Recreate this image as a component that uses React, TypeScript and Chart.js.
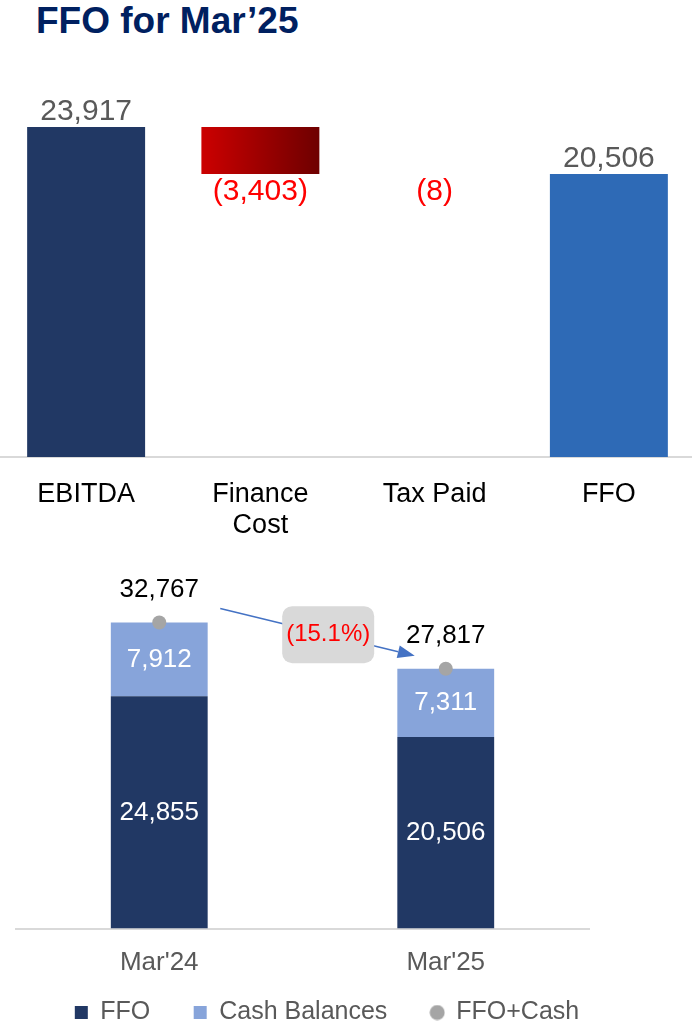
import React, { useEffect, useRef } from 'react';
import { Chart, registerables } from 'chart.js';

Chart.register(...registerables);

const FONT = '"Liberation Sans", Arial, Helvetica, sans-serif';

// ---- Waterfall (top) ----
const stepLabels: (string | string[])[] = ['EBITDA', ['Finance', 'Cost'], 'Tax Paid', 'FFO'];
const stepValues = [23917, -3403, -8, 20506];
const stepIsTotal = [true, false, false, true];
const stepColors = ['#213864', '#B00000', '#C00000', '#2E6AB6'];

// ---- Stacked (bottom) ----
const periodLabels = ["Mar'24", "Mar'25"];
const ffoValues = [24855, 20506];
const cashValues = [7912, 7311];
const totalValues = [32767, 27817];
const seriesNames = ['FFO', 'Cash Balances', 'FFO+Cash'];

const fmt = (v: number) => {
  const s = Math.abs(v).toLocaleString('en-US');
  return v < 0 ? `(${s})` : s;
};

function WaterfallChart() {
  const ref = useRef<HTMLCanvasElement>(null);
  useEffect(() => {
    let run = 0;
    const floating = stepValues.map((v, i) => {
      if (stepIsTotal[i]) {
        run = v;
        return [0, v];
      }
      const start = run;
      run += v;
      return [Math.min(start, run), Math.max(start, run)];
    });
    const labelPlugin = {
      id: 'wfLabels',
      afterDatasetsDraw(chart: any) {
        const ctx = chart.ctx;
        const meta = chart.getDatasetMeta(0);
        ctx.save();
        ctx.font = `30px ${FONT}`;
        ctx.textAlign = 'center';
        ctx.textBaseline = 'middle';
        meta.data.forEach((el: any, i: number) => {
          const v = stepValues[i];
          const top = Math.min(el.y, el.base);
          const bottom = Math.max(el.y, el.base);
          if (v >= 0) {
            ctx.fillStyle = '#595959';
            ctx.fillText(fmt(v), el.x, top - 15);
          } else {
            ctx.fillStyle = '#FF0000';
            ctx.fillText(fmt(v), el.x, bottom + 18);
          }
        });
        ctx.restore();
      },
    };
    const chart = new Chart(ref.current as HTMLCanvasElement, {
      type: 'bar',
      data: {
        labels: stepLabels as any,
        datasets: [
          {
            data: floating as any,
            backgroundColor: (c: any) => {
              const i = c.dataIndex;
              if (i === undefined) return stepColors[0];
              if (i !== 1) return stepColors[i];
              const chart = c.chart;
              const xs = chart.scales && chart.scales.x;
              if (!chart.chartArea || !xs) return stepColors[1];
              const cx = xs.getPixelForValue(i);
              const half = ((xs.width / stepValues.length) * 0.677) / 2;
              const g = chart.ctx.createLinearGradient(cx - half, 0, cx + half, 0);
              g.addColorStop(0, '#CC0000');
              g.addColorStop(1, '#6E0000');
              return g;
            },
            borderWidth: 0,
            barPercentage: 0.677,
            categoryPercentage: 1,
          },
        ],
      },
      options: {
        animation: false,
        responsive: false,
        maintainAspectRatio: false,
        layout: { padding: 0 },
        plugins: { legend: { display: false }, tooltip: { enabled: false } },
        scales: {
          x: {
            grid: { display: false },
            border: { display: true, color: '#D9D9D9', width: 2 },
            ticks: {
              color: '#000000',
              font: { family: FONT, size: 27, lineHeight: 1.15 },
              padding: 14,
              maxRotation: 0,
              autoSkip: false,
            },
            afterFit: (s: any) => {
              s.height = 93;
            },
          },
          y: { display: false, min: 0, max: 28770 },
        },
      } as any,
      plugins: [labelPlugin],
    });
    return () => chart.destroy();
  }, []);
  return (
    <canvas
      ref={ref}
      width={697}
      height={490}
      style={{ position: 'absolute', left: -1, top: 60, width: 697, height: 490 }}
    />
  );
}

function StackChart() {
  const ref = useRef<HTMLCanvasElement>(null);
  useEffect(() => {
    const circleImg = document.createElement('canvas');
    circleImg.width = 16;
    circleImg.height = 16;
    const cctx = circleImg.getContext('2d') as CanvasRenderingContext2D;
    cctx.fillStyle = '#A5A5A5';
    cctx.beginPath();
    cctx.arc(8, 8, 7.5, 0, Math.PI * 2);
    cctx.fill();

    const annotPlugin = {
      id: 'stackLabels',
      afterDatasetsDraw(chart: any) {
        const ctx = chart.ctx;
        const m0 = chart.getDatasetMeta(0);
        const m1 = chart.getDatasetMeta(1);
        const m2 = chart.getDatasetMeta(2);
        ctx.save();
        ctx.textAlign = 'center';
        ctx.textBaseline = 'middle';
        ctx.font = `26px ${FONT}`;
        ctx.fillStyle = '#FFFFFF';
        m0.data.forEach((el: any, i: number) => ctx.fillText(fmt(ffoValues[i]), el.x, (el.y + el.base) / 2));
        m1.data.forEach((el: any, i: number) => ctx.fillText(fmt(cashValues[i]), el.x, (el.y + el.base) / 2));
        ctx.fillStyle = '#000000';
        m2.data.forEach((el: any, i: number) => ctx.fillText(fmt(totalValues[i]), el.x, el.y - 33));

        // arrow
        const p1 = m2.data[0];
        const p2 = m2.data[1];
        const sx = p1.x + 61;
        const sy = p1.y - 14;
        const ex = p2.x - 31;
        const ey = p2.y - 13;
        const ang = Math.atan2(ey - sy, ex - sx);
        const headLen = 17;
        const headHalf = 6.5;
        const bx = ex - headLen * Math.cos(ang);
        const by = ey - headLen * Math.sin(ang);
        ctx.strokeStyle = '#4472C4';
        ctx.fillStyle = '#4472C4';
        ctx.lineWidth = 1.5;
        ctx.beginPath();
        ctx.moveTo(sx, sy);
        ctx.lineTo(bx, by);
        ctx.stroke();
        ctx.beginPath();
        ctx.moveTo(ex, ey);
        ctx.lineTo(bx + headHalf * Math.sin(ang), by - headHalf * Math.cos(ang));
        ctx.lineTo(bx - headHalf * Math.sin(ang), by + headHalf * Math.cos(ang));
        ctx.closePath();
        ctx.fill();

        // change box
        const t = 0.555;
        const cx = sx + t * (ex - sx);
        const cy = sy + t * (ey - sy);
        const w = 92;
        const h = 57;
        ctx.fillStyle = '#D9D9D9';
        ctx.beginPath();
        (ctx as any).roundRect(cx - w / 2, cy - h / 2, w, h, 10);
        ctx.fill();
        const pct = (totalValues[1] / totalValues[0] - 1) * 100;
        const pctText = pct < 0 ? `(${Math.abs(pct).toFixed(1)}%)` : `${pct.toFixed(1)}%`;
        ctx.fillStyle = '#FF0000';
        ctx.font = `24px ${FONT}`;
        ctx.fillText(pctText, cx, cy);
        ctx.restore();
      },
    };

    const chart = new Chart(ref.current as HTMLCanvasElement, {
      type: 'bar',
      data: {
        labels: periodLabels,
        datasets: [
          {
            type: 'bar',
            label: seriesNames[0],
            data: ffoValues,
            backgroundColor: '#213864',
            borderWidth: 0,
            stack: 's',
            order: 1,
            barPercentage: 0.338,
            categoryPercentage: 1,
          },
          {
            type: 'bar',
            label: seriesNames[1],
            data: cashValues,
            backgroundColor: '#87A4DA',
            borderWidth: 0,
            stack: 's',
            order: 1,
            barPercentage: 0.338,
            categoryPercentage: 1,
          },
          {
            type: 'line',
            label: seriesNames[2],
            data: totalValues,
            showLine: false,
            pointRadius: 7,
            pointBackgroundColor: '#A5A5A5',
            pointBorderWidth: 0,
            backgroundColor: '#A5A5A5',
            borderColor: '#A5A5A5',
            stack: 't',
            order: 0,
          },
        ] as any,
      },
      options: {
        animation: false,
        responsive: false,
        maintainAspectRatio: false,
        layout: { padding: { left: 16, right: 54, top: 0, bottom: 0 } },
        plugins: {
          tooltip: { enabled: false },
          legend: {
            display: true,
            position: 'bottom',
            labels: {
              usePointStyle: true,
              boxWidth: 13,
              boxHeight: 13,
              padding: 29.5,
              color: '#595959',
              font: { family: FONT, size: 25 },
              sort: (a: any, b: any) => a.datasetIndex - b.datasetIndex,
              generateLabels: (ch: any) => {
                const items = (Chart.defaults as any).plugins.legend.labels.generateLabels(ch);
                items.forEach((it: any) => {
                  it.pointStyle = it.datasetIndex === 2 ? circleImg : 'rect';
                  it.lineWidth = 0;
                  it.strokeStyle = 'rgba(0,0,0,0)';
                  if (it.datasetIndex !== 2) it.text = it.text + '  ';
                });
                return items;
              },
            },
          },
        },
        scales: {
          x: {
            stacked: true,
            grid: { display: false },
            border: { display: true, color: '#D9D9D9', width: 2 },
            ticks: {
              color: '#595959',
              font: { family: FONT, size: 26, lineHeight: 1.2 },
              padding: 11,
              maxRotation: 0,
            },
            afterFit: (s: any) => {
              s.height = 42;
            },
          },
          y: {
            stacked: true,
            min: 0,
            max: 39350,
            position: 'right',
            grid: { display: false },
            border: { display: false },
            ticks: { display: false },
            afterFit: (s: any) => {
              s.width = 49;
            },
          },
        },
      } as any,
      plugins: [annotPlugin],
    });
    return () => chart.destroy();
  }, []);
  return (
    <canvas
      ref={ref}
      width={692}
      height={481}
      style={{ position: 'absolute', left: 0, top: 554, width: 692, height: 481 }}
    />
  );
}

export default function App() {
  return (
    <div
      style={{
        position: 'absolute',
        left: 0,
        top: 0,
        width: 692,
        height: 1026,
        overflow: 'hidden',
        background: '#FFFFFF',
      }}
    >
      <div
        style={{
          position: 'absolute',
          left: 36,
          top: 2,
          fontFamily: FONT,
          fontWeight: 'bold',
          fontSize: 37,
          lineHeight: '37px',
          color: '#002060',
          whiteSpace: 'nowrap',
        }}
      >
        FFO for Mar’25
      </div>
      <WaterfallChart />
      <StackChart />
    </div>
  );
}
